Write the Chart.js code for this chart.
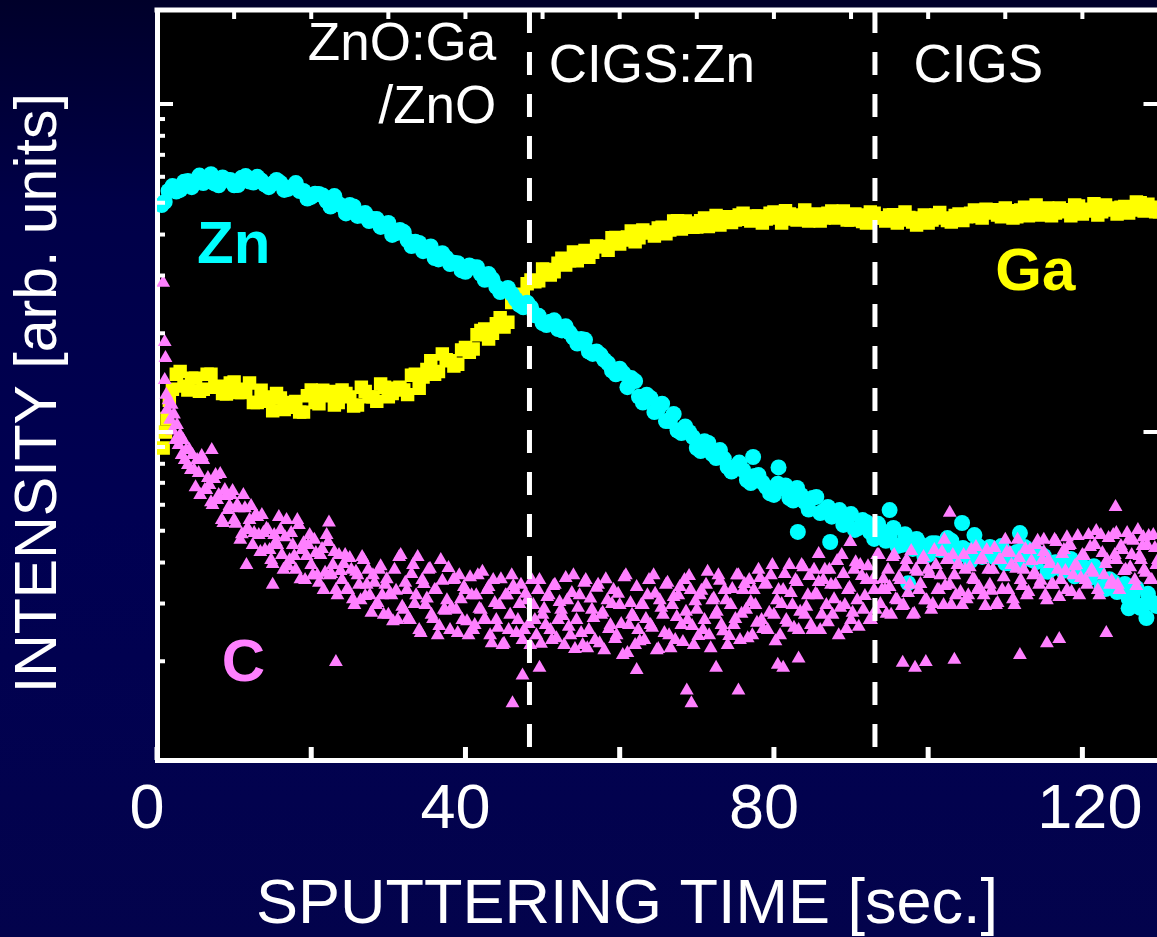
<!DOCTYPE html>
<html>
<head>
<meta charset="utf-8">
<title>Perfil SIMS ZnO:Ga / CIGS</title>
<script src="https://cdn.jsdelivr.net/npm/chart.js@4.4.1/dist/chart.umd.min.js"></script>
<style>
  html, body { margin: 0; padding: 0; overflow: hidden; }
  body {
    width: 1157px;
    height: 937px;
    background: linear-gradient(180deg, #00002a 0%, #000048 22%, #000052 55%, #03034c 100%);
  }
  canvas { display: block; }
</style>
</head>
<body>
<canvas id="perfil" width="1169" height="937"></canvas>
<script>
// [sputtering time (s), intensity (arb. units)]
const znPoints = [
  [0.6,49.2],[1,50.3],[2,56.2],[3,54.7],[4,58.3],[5,58.3],[6,57.4],[7,61.1],[8,56.5],[9,58.8],
  [10,56.5],[11,59.6],[12,58.0],[13,60.0],[14,56.8],[15,57.2],[16,57.5],[17,55.1],[18,57.4],[19,54.3],
  [20,52.1],[21,53.2],[22,50.6],[23,52.4],[24,48.9],[25,49.2],[26,45.6],[27,46.5],[28,44.6],[29,42.2],
  [30,43.4],[31,40.4],[32,40.7],[33,36.9],[34,37.7],[35,36.2],[36,33.9],[37,35.1],[38,32.5],[39,32.7],
  [40,30.8],[41,31.8],[42,30.3],[43,30.3],[44,27.7],[45,27.1],[46,26.4],[47,24.4],[48,24.8],[49,22.7],
  [50,21.5],[51,21.7],[52,20.6],[53,21.0],[54,19.4],[55,19.2],[56,17.6],[57,17.6],[58,16.6],[59,15.4],
  [60,15.6],[61,13.7],[62,14.3],[63,12.3],[64,12.7],[65,11.8],[66,10.8],[67,11.35],[68,9.93],[69,10.0],
  [70,8.94],[71,9.38],[72,8.57],[73,8.81],[74,7.82],[75,7.82],[76,7.66],[77,6.99],[78,7.39],[79,6.79],
  [80,6.43],[81,6.75],[82,6.29],[83,6.75],[84,6.11],[85,6.29],[86,5.66],[87,5.91],[88,5.66],[89,5.21],
  [90,5.62],[91,5.10],[92,5.31],[93,4.72],[94,4.99],[95,4.78],[96,4.49],[97,4.88],[98,4.40],[99,4.55],
  [100,4.22],[101,4.58],[102,4.37],[103,4.66],[104,4.22],[105,4.34],[106,4.40],[107,4.16],[108,4.46],[109,4.16],
  [110,3.98],[111,4.25],[112,4.01],[113,4.37],[114,4.01],[115,4.19],[116,3.83],[117,4.01],[118,3.90],[119,3.63],
  [120,3.90],[121,3.59],[122,3.75],[123,3.32],[124,3.49],[125,3.35],[126,3.11],[127,3.35],[128,2.97],[129,3.03],
  [129.6,2.95],
  [1.5,54.3],[2.5,54.1],[3.5,57.9],[4.5,55.8],[5.5,60.5],[6.5,58.3],[7.5,57.2],[8.5,59.7],[9.5,58.7],[10.5,56.6],
  [11.5,60.3],[12.5,57.6],[13.5,58.5],[14.5,55.8],[15.5,58.7],[16.5,54.7],[17.5,55.8],[18.5,54.3],[19.5,51.5],
  [20.5,53.3],[21.5,52.6],[22.5,48.7],[23.5,49.7],[24.5,46.4],[25.5,48.7],[26.5,45.7],[27.5,44.0],[28.5,44.6],
  [29.5,42.5],[30.5,39.9],[31.5,41.3],[32.5,38.4],[33.5,38.0],[34.5,35.6],[35.5,36.8],[36.5,33.6],[37.5,34.0],
  [38.5,32.8],[39.5,31.1],[40.5,32.2],[41.5,31.8],[42.5,29.1],[43.5,29.2],[44.5,26.7],[45.5,27.5],[46.5,25.4],
  [47.5,24.0],[48.5,24.0],[49.5,22.6],[50.5,21.2],[51.5,21.9],[52.5,20.4],[53.5,20.1],[54.5,18.6],[55.5,19.1],
  [56.5,17.3],[57.5,17.2],[58.5,16.2],[59.5,15.0],[60.5,15.1],[61.5,14.6],[62.5,12.8],[63.5,13.0],[64.5,11.5],
  [65.5,12.2],[66.5,10.8],[67.5,10.1],[68.5,10.4],[69.5,9.65],[70.5,8.75],[71.5,9.26],[72.5,8.33],[73.5,8.30],
  [74.5,7.58],[75.5,8.07],[76.5,7.14],[77.5,7.34],[78.5,7.02],[79.5,6.50],[80.5,6.96],[81.5,6.87],[82.5,6.18],
  [83.5,6.43],[84.5,5.80],[85.5,6.34],[86.5,5.76],[87.5,5.52],[88.5,5.78],[89.5,5.45],[90.5,5.03],[91.5,5.39],
  [92.5,4.94],
  [93.5,5.25],[94.5,4.66],[95.5,5.10],[96.5,4.52],[97.5,4.58],[98.5,4.72],[99.5,4.19],[100.5,4.58],[101.5,4.37],
  [102.5,4.75],[103.5,4.22],[104.5,4.43],[105.5,4.04],[106.5,4.49],[107.5,4.31],[108.5,4.16],[109.5,4.49],
  [110.5,3.98],[111.5,4.31],[112.5,4.46],[113.5,4.07],[114.5,4.25],[115.5,3.75],[116.5,4.01],[117.5,3.77],
  [118.5,4.10],[119.5,3.69],[120.5,3.72],[121.5,3.90],[122.5,3.37],[123.5,3.56],[124.5,3.25],[125.5,3.44],
  [126.5,3.16],[127.5,2.91],[128.5,3.21],
  [77.3,8.39],[80.6,7.8],[83.1,4.96],[87.3,4.62],[95.0,5.78],[104.4,5.28],[106.0,4.85],[111.9,4.92],
  [97.4,3.46],[126.0,2.90],[128.3,2.71]
];

const gaPoints = [
  [0.8,8.94],[1.1,10.0],[1.3,11.0],[1.6,12.5],
  [2,13.5],[3,15.3],[4,13.43],[5,14.6],[6,13.5],[7,15.0],[8,13.8],[9,13.05],[10,14.2],[11,13.2],
  [12,14.1],[13,12.3],[14,12.8],[15,11.6],[16,12.7],[17,11.9],[18,12.4],[19,11.5],[20,13.43],[21,12.2],
  [22,12.9],[23,12.09],[24,13.43],[25,12.8],[26,12.09],[27,13.3],[28,12.8],[29,14.0],[30,12.8],[31,13.6],
  [32,13.43],[33,14.9],[34,13.6],[35,15.5],[36,15.0],[37,17.3],[38,16.5],[39,16.1],[40,18.1],[41,17.9],
  [42,20.4],[43,19.2],[44,21.4],[45,20.9],[46,24.8],[47,25.3],[48,28.3],[49,28.7],[50,31.4],[51,30.1],
  [52,32.7],[53,32.3],[54,35.4],[55,34.4],[56,34.1],[57,36.9],[58,36.7],[59,39.1],[60,37.4],[61,39.3],
  [62,38.0],[63,41.3],[64,40.4],[65,41.9],[66,40.2],[67,44.0],[68,41.6],[69,43.4],[70,42.2],[71,44.9],
  [72,44.0],[73,42.8],[74,45.3],[75,44.3],[76,46.5],[77,44.0],[78,45.6],[79,44.6],[80,46.9],[81,43.4],
  [82,46.2],[83,44.3],[84,47.5],[85,45.3],[86,44.0],[87,46.5],[88,44.9],[89,47.2],[90,44.3],[91,45.9],
  [92,43.4],[93,46.5],[94,44.9],[95,45.9],[96,43.4],[97,46.9],[98,43.7],[99,44.9],[100,43.4],[101,45.9],
  [102,44.9],[103,43.7],[104,46.2],[105,45.3],[106,47.5],[107,44.9],[108,46.5],[109,45.9],[110,48.2],[111,44.9],
  [112,47.5],[113,45.6],[114,49.2],[115,46.9],[116,45.6],[117,48.2],[118,46.9],[119,49.2],[120,46.2],[121,47.8],
  [122,45.9],[123,49.2],[124,47.5],[125,48.5],[126,46.5],[127,50.3],[128,47.2],[129,48.5],[130,46.9],
  [2.5,15.0],[3.5,13.8],[4.5,14.6],[5.5,13.3],[6.5,15.0],[7.5,13.7],[8.5,13.1],[9.5,14.1],[10.5,13.2],[11.5,13.5],
  [12.5,12.3],[13.5,13.4],[14.5,12.4],[15.5,13.1],[16.5,11.7],[17.5,12.3],[18.5,11.5],[19.5,12.9],[20.5,12.3],
  [21.5,13.4],[22.5,13.3],[23.5,12.3],[24.5,13.1],[25.5,12.0],[26.5,13.7],[27.5,12.8],[28.5,12.4],[29.5,13.7],
  [30.5,13.1],[31.5,13.7],[32.5,13.0],[33.5,15.0],[34.5,14.7],[35.5,16.5],[36.5,15.3],[37.5,16.6],[38.5,15.9],
  [39.5,17.8],[40.5,17.5],[41.5,19.8],[42.5,20.6],[43.5,20.0],[44.5,22.3],[45.5,21.6],[46.5,26.3],[47.5,26.2],
  [48.5,29.1],[49.5,28.9],[50.5,31.3],[51.5,30.8],[52.5,33.9],[53.5,33.3],[54.5,33.3],[55.5,35.8],[56.5,35.3],
  [57.5,36.8],[58.5,35.8],[59.5,39.2],[60.5,38.5],[61.5,41.0],[62.5,39.1],[63.5,40.7],[64.5,39.6],[65.5,42.1],
  [66.5,41.3],[67.5,44.1],[68.5,44.0],[69.5,42.1],[70.5,44.1],[71.5,42.3],[72.5,45.7],[73.5,44.1],[74.5,43.5],
  [75.5,45.9],[76.5,44.5],[77.5,45.6],[78.5,43.4],[79.5,46.5],[80.5,44.9],[81.5,47.3],[82.5,44.6],[83.5,45.9],
  [84.5,44.0],[85.5,46.2],[86.5,44.9],[87.5,47.2],[88.5,46.9],[89.5,44.3],[90.5,46.2],[91.5,43.8],[92.5,46.9],
  [93.5,44.9],[94.5,44.0],[95.5,46.0],[96.5,44.3],[97.5,45.1],[98.5,42.8],[99.5,45.9],[100.5,44.3],[101.5,46.7],
  [102.5,44.1],[103.5,45.7],[104.5,44.1],[105.5,46.5],[106.5,45.4],[107.5,47.8],[108.5,47.6],[109.5,45.3],
  [110.5,47.3],[111.5,45.3],[112.5,48.5],[113.5,46.7],[114.5,45.9],[115.5,48.2],[116.5,46.5],[117.5,47.6],
  [118.5,45.6],[119.5,48.9],[120.5,47.2],[121.5,49.7],[122.5,46.9],[123.5,48.2],[124.5,46.2],[125.5,48.7],
  [126.5,47.5],[127.5,50.0],[128.5,49.5],[129.5,46.9]
];

const cPoints = [
  [0.8,28.5],[1.0,18.8],[1.1,16.8],
  [1.0,14.4],[1.2,13.0],[1.3,11.7],[1.5,12.5],[1.7,10.9],[1.9,12.1],[2.0,10.1],[2.2,11.3],[2.4,9.45],[2.6,10.5],
  [2.8,9.13],[3.0,9.79],[3.2,8.51],[3.4,9.45],[3.6,8.21],[3.8,8.81],[4.0,7.93],[4.2,8.81],[4.4,7.66],[4.6,8.51],
  [4.8,7.66],[5.2,8.21],[5.6,6.43],[6.0,8.21],[6.4,6.66],[6.8,6.89],[7.2,5.99],[7.6,7.39],[8.0,6.43],[8.4,5.39],
  [8.8,6.66],[9.2,5.78],[9.6,6.43],[10.0,5.39],[10.4,5.99],[10.8,4.69],[11.2,6.43],[11.6,5.03],[12.0,5.39],
  [12.4,4.52],[12.8,5.58],[13.2,4.85],[13.6,5.58],[14.0,4.37],[14.4,5.03],[14.8,4.07],[15.2,4.85],
  [7.1,8.81],[11.6,3.93],[15.0,3.42],[22.3,5.30],[23.2,1.99],
  [15.6,4.52],[16.0,5.03],[16.4,3.80],[16.8,5.39],[17.2,4.07],[17.6,4.52],[18.0,3.80],[18.4,5.21],[18.8,4.37],
  [19.2,3.54],[19.6,4.52],[20.0,3.93],[20.4,4.69],[20.8,3.66],[21.2,4.22],[21.6,3.30],[22.0,4.85],[22.4,3.66],
  [22.8,3.93],[23.2,3.30],[23.6,4.22],[24.0,3.54],[24.4,4.22],[24.8,3.30],[25.2,3.80],[25.6,2.97],[26.0,3.66],
  [26.4,3.07],[26.8,4.07],[27.2,3.42],[27.6,3.18],[28.0,3.66],[28.4,2.97],[28.8,3.80],[29.2,3.18],[29.6,3.42],
  [30.0,2.77],
  [30.4,3.18],[30.8,3.80],[31.2,2.67],[31.6,4.22],[32.0,2.87],[32.4,3.30],[32.8,2.67],[33.2,3.93],[33.6,3.18],
  [34.0,2.49],[34.4,3.54],[34.8,2.97],[35.2,3.80],[35.6,2.77],[36.0,3.30],[36.4,2.40],[36.8,4.07],[37.2,2.87],
  [37.6,3.07],[38.0,2.49],[38.4,3.54],[38.8,2.87],[39.2,3.66],[39.6,2.67],[40.0,3.30],[40.4,2.40],[40.8,3.18],
  [41.2,2.58],[41.6,3.66],[42.0,2.87],[42.4,2.67],[42.8,3.30],[43.2,2.40],[43.6,3.54],[44.0,2.67],[44.4,2.97],
  [44.8,2.24],[45.2,3.18],[45.6,2.49],[46.0,3.66],
  [46.4,3.30],[46.8,2.67],[47.2,3.42],[47.6,2.49],[48.0,3.07],[48.4,2.24],[48.8,2.97],[49.2,2.40],[49.6,3.54],
  [50.0,2.77],[50.4,2.58],[50.8,3.18],[51.2,2.32],[51.6,3.42],[52.0,2.67],[52.4,2.87],[52.8,2.24],[53.2,3.07],
  [53.6,2.40],[54.0,3.66],[54.4,2.67],[54.8,3.18],[55.2,2.24],[55.6,3.54],[56.0,2.49],[56.4,2.87],[56.8,2.32],
  [57.2,3.42],[57.6,2.77],[58.0,2.16],[58.4,3.07],[58.8,2.58],[59.2,3.30],[59.6,2.40],[60.0,2.97],[60.4,2.09],
  [60.8,3.66],[61.2,2.58],[61.6,2.77],[62.0,2.24],
  [62.4,2.49],[62.8,2.97],[63.2,2.32],[63.6,3.18],[64.0,2.58],[64.4,3.66],[64.8,2.16],[65.2,3.07],[65.6,2.77],
  [66.0,3.42],[66.4,2.40],[66.8,2.97],[67.2,2.32],[67.6,3.18],[68.0,2.58],[68.4,3.54],[68.8,2.67],[69.2,3.30],
  [69.6,2.24],[70.0,2.87],[70.4,3.18],[70.8,2.49],[71.2,3.42],[71.6,2.40],[72.0,3.07],[72.4,2.77],[72.8,3.66],
  [73.2,2.58],[73.6,3.30],[74.0,2.24],[74.4,2.97],[74.8,2.58],[75.2,3.66],[75.6,2.32],[76.0,3.30],[76.4,2.87],
  [76.8,3.54],[77.2,2.40],[77.6,2.97],[78.0,3.80],
  [78.4,2.67],[78.8,3.42],[79.2,2.49],[79.6,3.66],[80.0,2.77],[80.4,3.07],[80.8,2.40],[81.2,3.30],[81.6,2.67],
  [82.0,3.93],[82.4,2.97],[82.8,3.54],[83.2,2.49],[83.6,3.93],[84.0,2.77],[84.4,3.18],[84.8,2.58],[85.2,3.80],
  [85.6,3.18],[86.0,2.49],[86.4,3.54],[86.8,2.97],[87.2,3.80],[87.6,2.77],[88.0,3.42],[88.4,2.40],[88.8,4.22],
  [89.2,2.97],[89.6,3.30],[90.0,2.67],[90.4,3.80],[90.8,3.07],[91.2,3.93],[91.6,2.87],[92.0,3.54],[92.4,2.67],
  [92.8,3.54],[93.2,2.87],[93.6,4.22],[94.0,3.30],
  [94.4,3.30],[94.8,3.80],[95.2,2.77],[95.6,4.22],[96.0,3.07],[96.4,3.54],[96.8,2.97],[97.2,4.07],[97.6,3.42],
  [98.0,2.77],[98.4,3.80],[98.8,3.30],[99.2,4.07],[99.6,3.07],[100.0,3.80],[100.4,2.87],[100.8,4.37],[101.2,3.30],
  [101.6,3.66],[102.0,2.97],[102.4,4.07],[102.8,3.42],[103.2,4.22],[103.6,3.18],[104.0,3.93],[104.4,2.97],
  [104.8,3.80],[105.2,3.18],[105.6,4.37],[106.0,3.54],[106.4,3.30],[106.8,4.07],[107.2,3.18],[107.6,4.37],
  [108.0,3.42],[108.4,3.80],[108.8,2.97],[109.2,4.07],[109.6,3.30],[110.0,4.69],
  [110.4,3.30],[110.8,3.93],[111.2,2.97],[111.6,4.69],[112.0,3.54],[112.4,3.80],[112.8,3.18],[113.2,4.37],
  [113.6,3.66],[114.0,4.52],[114.4,3.42],[114.8,4.07],[115.2,3.18],[115.6,4.07],[116.0,3.42],[116.4,4.69],
  [116.8,3.80],[117.2,3.54],[117.6,4.37],[118.0,3.30],[118.4,4.52],[118.8,3.66],[119.2,3.93],[119.6,3.18],
  [120.0,4.22],[120.4,3.54],[120.8,4.85],[121.2,3.80],[121.6,4.52],[122.0,3.30],[122.4,4.85],[122.8,3.66],
  [123.2,4.07],[123.6,3.42],[124.0,4.85],[124.4,4.07],[124.8,3.30],[125.2,4.37],[125.6,3.80],[126.0,4.69],
  [126.4,4.22],[126.8,3.54],[127.2,5.03],[127.6,4.07],[128.0,3.80],[128.4,4.52],[128.8,3.54],[129.2,4.85],[129.6,3.93],
  [5.0,6.79],[5.4,7.50],[5.8,8.45],[6.2,6.66],[6.6,7.24],[7.0,6.11],[7.4,7.19],[7.8,6.20],[8.2,7.45],[8.6,5.28],
  [9.0,6.38],[9.4,5.95],[9.8,6.61],[10.2,5.25],[10.6,5.86],[11.0,4.88],[11.4,5.86],[11.8,5.07],[12.2,5.95],
  [12.6,4.92],[13.0,5.51],[13.4,4.31],[13.8,4.92],[14.2,5.07],[14.6,4.37],
  [15.0,3.96],[15.4,4.62],[15.8,5.51],[16.2,4.22],[16.6,4.78],[17.0,3.90],[17.4,4.92],[17.8,4.19],[18.2,5.39],
  [18.6,3.56],[19.0,4.58],[19.4,4.19],[19.8,4.85],[20.2,3.66],[20.6,4.28],[21.0,3.47],[21.4,4.40],[21.8,3.72],
  [22.2,4.62],[22.6,3.69],[23.0,4.31],[23.4,3.18],[23.8,3.77],[24.2,3.96],[24.6,3.30],[25.0,4.13],[25.4,3.09],
  [25.8,3.75],[26.2,3.42],[26.6,4.16],[27.0,3.16],[27.4,3.80],[27.8,2.81],[28.2,3.47],[28.6,3.01],[29.0,3.90],
  [29.4,2.77],[29.8,3.56],[30.2,3.21],
  [30.6,2.65],[31.0,3.28],[31.4,4.16],[31.8,2.93],[32.2,3.47],[32.6,2.71],[33.0,3.69],[33.4,2.99],[33.8,4.16],
  [34.2,2.44],[34.6,3.44],[35.0,3.11],[35.4,3.83],[35.8,2.69],[36.2,3.30],[36.6,2.56],[37.0,3.52],[37.4,2.85],
  [37.8,3.85],[38.2,2.91],[38.6,3.56],[39.0,2.44],[39.4,3.09],[39.8,3.37],[40.2,2.65],[40.6,3.61],[41.0,2.49],
  [41.4,3.18],[41.8,2.89],[42.2,3.75],[42.6,2.67],[43.0,3.37],[43.4,2.27],[43.8,3.01],[44.2,2.53],[44.6,3.56],
  [45.0,2.26],[45.4,3.18],[45.8,2.77],[46.2,3.39],
  [46.6,2.44],[47.0,2.99],[47.4,2.32],[47.8,3.21],[48.2,2.60],[48.6,3.54],[49.0,2.67],[49.4,3.30],[49.8,2.26],
  [50.2,2.89],[50.6,3.14],[51.0,2.49],[51.4,3.39],[51.8,2.35],[52.2,3.03],[52.6,2.75],[53.0,3.59],[53.4,2.55],
  [53.8,3.23],[54.2,2.18],[54.6,2.91],[55.0,2.44],[55.4,3.47],[55.8,2.19],[56.2,3.11],[56.6,2.71],[57.0,3.35],
  [57.4,2.27],[57.8,2.81],[58.2,3.56],[58.6,2.51],[59.0,2.99],[59.4,2.34],[59.8,3.21],[60.2,2.60],[60.6,3.61],
  [61.0,2.12],[61.4,3.01],[61.8,2.73],[62.2,3.37],
  [62.6,2.30],[63.0,2.97],[63.4,2.69],[63.8,3.54],[64.2,2.53],[64.6,3.21],[65.0,2.18],[65.4,2.91],[65.8,2.44],
  [66.2,3.47],[66.6,2.19],[67.0,3.14],[67.4,2.73],[67.8,3.37],[68.2,2.29],[68.6,2.83],[69.0,3.64],[69.4,2.56],
  [69.8,3.05],[70.2,2.39],[70.6,3.28],[71.0,2.67],[71.4,3.75],[71.8,2.19],[72.2,3.11],[72.6,2.83],[73.0,3.52],
  [73.4,2.47],[73.8,3.07],[74.2,2.39],[74.6,3.32],[75.0,2.69],[75.4,3.66],[75.8,2.79],[76.2,3.44],[76.6,2.35],
  [77.0,3.03],[77.4,3.30],[77.8,2.62],[78.2,3.59],
  [78.6,2.51],[79.0,3.44],[79.4,2.81],[79.8,3.93],[80.2,2.30],[80.6,3.30],[81.0,2.99],[81.4,3.69],[81.8,2.62],
  [82.2,3.23],[82.6,2.53],[83.0,3.49],[83.4,2.83],[83.8,3.87],[84.2,2.93],[84.6,3.64],[85.0,2.49],[85.4,3.21],
  [85.8,3.49],[86.2,2.77],[86.6,3.80],[87.0,2.63],[87.4,3.42],[87.8,3.09],[88.2,4.04],[88.6,2.91],[89.0,3.69],
  [89.4,2.51],[89.8,3.35],[90.2,2.81],[90.6,4.01],[91.0,2.55],[91.4,3.64],[91.8,3.16],[92.2,3.90],[92.6,2.67],
  [93.0,3.30],[93.4,4.22],[93.8,2.99],[94.2,3.56],
  [94.6,2.79],[95.0,3.37],[95.4,4.16],[95.8,3.09],[96.2,3.61],[96.6,2.95],[97.0,3.87],[97.4,3.23],[97.8,4.34],
  [98.2,2.79],[98.6,3.75],[99.0,3.44],[99.4,4.16],[99.8,3.07],[100.2,3.69],[100.6,2.99],[101.0,3.93],[101.4,3.30],
  [101.8,4.31],[102.2,3.39],[102.6,4.07],[103.0,2.97],[103.4,3.66],[103.8,3.93],[104.2,3.25],[104.6,4.22],
  [105.0,3.09],[105.4,3.87],[105.8,3.56],[106.2,4.46],[106.6,3.37],[107.0,4.13],[107.4,2.95],[107.8,3.80],
  [108.2,3.28],[108.6,4.43],[109.0,3.01],[109.4,4.07],[109.8,3.61],[110.2,4.31],
  [110.6,4.28],[111.0,3.09],[111.4,3.83],[111.8,4.13],[112.2,3.39],[112.6,4.40],[113.0,3.25],[113.4,4.04],
  [113.8,3.72],[114.2,4.66],[114.6,3.52],[115.0,4.31],[115.4,3.07],[115.8,3.96],[116.2,3.42],[116.6,4.62],
  [117.0,3.14],[117.4,4.25],[117.8,3.77],[118.2,4.49],[118.6,3.25],[119.0,3.90],[119.4,4.82],[119.8,3.59],
  [120.2,4.19],[120.6,3.42],[121.0,4.46],[121.4,3.72],[121.8,4.99],[122.2,3.18],[122.6,4.28],[123.0,3.96],
  [123.4,4.75],[123.8,3.52],[124.2,4.22],[124.6,3.42],[125.0,4.49],[125.4,3.77],[125.8,4.92],[126.2,3.87],
  [126.6,4.66],[127.0,3.39],[127.4,4.19],[127.8,4.49],[128.2,3.72],[128.6,4.82],[129.0,3.54],[129.4,4.43],[129.8,4.07],
  [46.1,1.49],[47.4,1.81],[68.7,1.63],[75.4,1.63],[69.3,1.49],[49.6,1.91],[62.2,1.88],[72.5,1.91],[80.5,1.95],
  [99.7,1.99],[81.2,1.91],[83.2,2.04],[96.7,1.98],[98.3,1.91],[103.4,2.02],[111.9,2.09],[115.4,2.27],[117.0,2.34],
  [123.1,2.44],[85.8,4.25],[89.9,4.62],[102.1,4.69],[115.0,4.69],[118.0,4.78],[124.3,5.91],[124.4,4.92],
  [127.9,4.78],[102.8,5.67]
];

const xTickLabels = { 0: '0', 40: '40', 80: '80', 120: '  120' };
const layerBoundaries = [48.3, 93.1];
const layerNames = [
  { text: 'ZnO:Ga', t: 44.0, v: 136, align: 'right' },
  { text: '/ZnO', t: 44.0, v: 87.5, align: 'right' },
  { text: 'CIGS:Zn', t: 50.8, v: 117, align: 'left' },
  { text: 'CIGS', t: 98.1, v: 117, align: 'left' }
];

const CYAN = '#00ffff';
const YELLOW = '#ffff00';
const PINK = '#ff80ff';
const FONT = "'Liberation Sans', Arial, sans-serif";

const elementNames = [
  { text: 'Zn', t: 5.2, v: 32.8, color: CYAN },
  { text: 'Ga', t: 108.7, v: 27.1, color: YELLOW },
  { text: 'C', t: 8.4, v: 1.74, color: PINK }
];

function toXY(points) {
  return points.map(([t, v]) => ({ x: t, y: v }));
}

function line(ctx, x1, y1, x2, y2) {
  ctx.beginPath();
  ctx.moveTo(x1, y1);
  ctx.lineTo(x2, y2);
  ctx.stroke();
}

const marcoPlugin = {
  id: 'marco',
  beforeDraw(chart) {
    const { ctx, chartArea: a } = chart;
    ctx.save();
    ctx.fillStyle = '#000';
    ctx.fillRect(a.left, a.top, a.right - a.left, a.bottom - a.top);
    ctx.restore();
  },
  afterDatasetsDraw(chart) {
    const { ctx, chartArea: a, scales: { x, y } } = chart;
    ctx.save();
    ctx.strokeStyle = '#fff';
    ctx.lineCap = 'butt';

    ctx.lineWidth = 5;
    line(ctx, a.left - 2.5, a.top, a.right, a.top);

    // log ticks, pointing inwards
    ctx.lineWidth = 4;
    for (let dec = 1; dec <= y.max; dec *= 10) {
      for (let m = 1; m <= 9; m++) {
        const v = m * dec;
        if (v > y.max) break;
        const py = y.getPixelForValue(v);
        const len = m === 1 ? 16 : 8;
        line(ctx, a.left, py, a.left + len, py);
        if (m === 1) line(ctx, a.right - len, py, a.right, py);
      }
    }

    ctx.lineWidth = 5;
    x.ticks.forEach(tk => {
      const px = x.getPixelForValue(tk.value);
      line(ctx, px, a.bottom, px, a.bottom - 13);
    });
    ctx.lineWidth = 4;
    for (let t = 10; t < x.max; t += 10) {
      const px = x.getPixelForValue(t);
      line(ctx, px, a.top, px, a.top + 9);
    }

    ctx.lineWidth = 5;
    ctx.setLineDash([23, 19]);
    layerBoundaries.forEach(t => {
      const px = x.getPixelForValue(t);
      line(ctx, px, a.top, px, a.bottom);
    });
    ctx.setLineDash([]);

    ctx.textBaseline = 'alphabetic';
    ctx.fillStyle = '#fff';
    ctx.font = `53px ${FONT}`;
    layerNames.forEach(l => {
      ctx.textAlign = l.align;
      ctx.fillText(l.text, x.getPixelForValue(l.t), y.getPixelForValue(l.v));
    });

    ctx.font = `bold 60px ${FONT}`;
    ctx.textAlign = 'left';
    elementNames.forEach(l => {
      ctx.fillStyle = l.color;
      ctx.fillText(l.text, x.getPixelForValue(l.t), y.getPixelForValue(l.v));
    });
    ctx.restore();
  },
  afterDraw(chart) {
    const { ctx, chartArea: a } = chart;
    ctx.save();
    ctx.fillStyle = '#fff';
    ctx.font = `63px ${FONT}`;
    ctx.textAlign = 'center';
    ctx.textBaseline = 'alphabetic';
    ctx.fillText('SPUTTERING TIME [sec.]', a.left + 470, chart.height - 14);
    ctx.restore();
  }
};

Chart.defaults.font.family = FONT;

new Chart(document.getElementById('perfil'), {
  type: 'scatter',
  data: {
    datasets: [
      {
        label: 'C',
        data: toXY(cPoints),
        pointStyle: 'triangle',
        pointRadius: 8,
        pointBorderWidth: 0,
        backgroundColor: PINK,
        order: 0
      },
      {
        label: 'Zn',
        data: toXY(znPoints),
        pointStyle: 'circle',
        pointRadius: 8,
        pointBorderWidth: 0,
        backgroundColor: CYAN,
        order: 1
      },
      {
        label: 'Ga',
        data: toXY(gaPoints),
        pointStyle: 'rect',
        pointRadius: 9.5,
        pointBorderWidth: 0,
        backgroundColor: YELLOW,
        order: 2
      }
    ]
  },
  options: {
    responsive: false,
    animation: false,
    devicePixelRatio: 1,
    layout: { padding: { top: 10, left: 0, right: 0, bottom: 0 } },
    plugins: {
      legend: { display: false },
      tooltip: { enabled: false }
    },
    scales: {
      x: {
        type: 'linear',
        min: 0,
        max: 130,
        afterFit: s => { s.height = 177; },
        grid: { display: false, drawTicks: false },
        border: { display: true, color: '#fff', width: 5 },
        ticks: {
          stepSize: 20,
          includeBounds: false,
          autoSkip: false,
          maxRotation: 0,
          color: '#fff',
          padding: 13,
          labelOffset: -10,
          font: { size: 63 },
          callback: v => xTickLabels[v] || ''
        }
      },
      y: {
        type: 'logarithmic',
        min: 1,
        max: 193.5,
        afterFit: s => { s.width = 157; },
        grid: { display: false, drawTicks: false },
        border: { display: true, color: '#fff', width: 5 },
        ticks: { display: false },
        title: {
          display: true,
          text: 'INTENSITY [arb. units] ',
          color: '#fff',
          font: { size: 59 },
          padding: { top: 4, bottom: 0 }
        }
      }
    }
  },
  plugins: [marcoPlugin]
});
</script>
</body>
</html>
